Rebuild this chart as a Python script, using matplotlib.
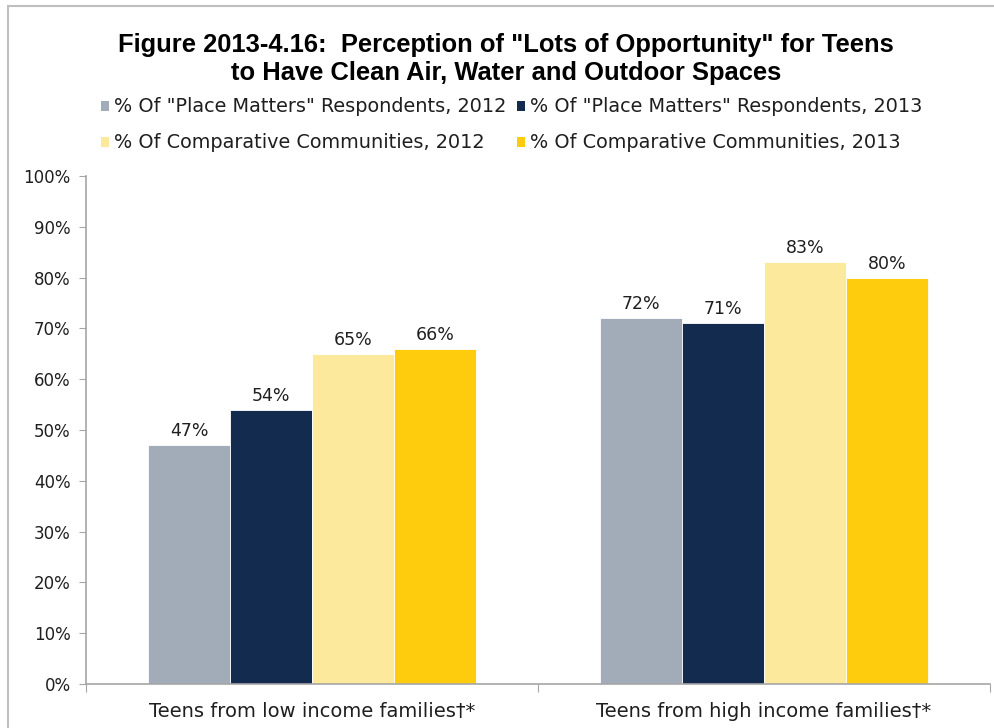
import matplotlib
matplotlib.use("Agg")
import matplotlib.pyplot as plt
from matplotlib.patches import Rectangle
from matplotlib.ticker import PercentFormatter
import numpy as np

categories = ["Teens from low income families\u2020*", "Teens from high income families\u2020*"]
series_names = [
    '% Of "Place Matters" Respondents, 2012',
    '% Of "Place Matters" Respondents, 2013',
    '% Of Comparative Communities, 2012',
    '% Of Comparative Communities, 2013',
]
pm_2012 = [47, 72]
pm_2013 = [54, 71]
cc_2012 = [65, 83]
cc_2013 = [66, 80]
colors = ["#A2ABB8", "#132B4E", "#FDE99C", "#FFCC0D"]

title = 'Figure 2013-4.16:  Perception of "Lots of Opportunity" for Teens\nto Have Clean Air, Water and Outdoor Spaces'

body_font = ["DejaVu Sans"]
title_font = ["Liberation Sans", "DejaVu Sans"]
text_color = "#1f1f1f"

W, H = 995, 728
fig = plt.figure(figsize=(W / 100, H / 100), dpi=100)
fig.patch.set_facecolor("white")

# outer chart frame
fig.add_artist(Rectangle((8 / W, -0.1), 1.2, (H - 6) / H + 0.1, transform=fig.transFigure,
                         fill=False, edgecolor="#BFBFBF", linewidth=1.5))

ax = fig.add_axes([86 / W, 1 - 684 / H, (990 - 86) / W, (684 - 176) / H])
values = [pm_2012, pm_2013, cc_2012, cc_2013]
n = len(values)
bw = 0.1815
x = np.arange(len(categories))
for i, (vals, c) in enumerate(zip(values, colors)):
    pos = x + (i - (n - 1) / 2) * bw
    bars = ax.bar(pos, vals, width=bw, color=c, edgecolor="white", linewidth=0.6, zorder=2)
    for b, v in zip(bars, vals):
        ax.text(b.get_x() + b.get_width() / 2, v + 1.0, f"{v}%", ha="center", va="bottom",
                fontsize=12.5, family=body_font, color=text_color)

ax.set_xlim(-0.5, len(categories) - 0.5)
ax.set_ylim(0, 100)
ax.set_yticks(np.arange(0, 101, 10))
ax.yaxis.set_major_formatter(PercentFormatter(decimals=0))
ax.set_xticks(np.arange(len(categories) + 1) - 0.5, minor=False)
ax.set_xticklabels([])
ax.set_xticks(x, minor=True)
ax.set_xticklabels(categories, minor=True)
ax.tick_params(axis="x", which="minor", length=0, pad=13, labelsize=14)
ax.tick_params(axis="x", which="major", length=6, color="#A6A6A6", direction="out")
ax.tick_params(axis="y", length=5, color="#A6A6A6", labelsize=12, pad=6)
for lab in ax.get_xticklabels(minor=True) + ax.get_yticklabels():
    lab.set_family(body_font)
    lab.set_color(text_color)
for s in ["top", "right"]:
    ax.spines[s].set_visible(False)
for s in ["left", "bottom"]:
    ax.spines[s].set_color("#A6A6A6")
    ax.spines[s].set_linewidth(1.2)

fig.text(506 / W, 1 - 59 / H, title, ha="center", va="center", fontsize=18.4, fontweight="bold",
         family=title_font, linespacing=1.25, color="#000000")

# legend in two rows
leg_x = [101, 517]
leg_y = [106, 142]
for i, (name, c) in enumerate(zip(series_names, colors)):
    r, col = divmod(i, 2)
    px, py = leg_x[col], leg_y[r]
    fig.add_artist(Rectangle((px / W, 1 - (py + 5) / H), 8 / W, 10 / H, transform=fig.transFigure,
                             facecolor=c, edgecolor="none"))
    fig.text((px + 13) / W, 1 - py / H, name, ha="left", va="center", fontsize=13.9,
             family=body_font, color=text_color)

fig.savefig("out.png", dpi=100)
